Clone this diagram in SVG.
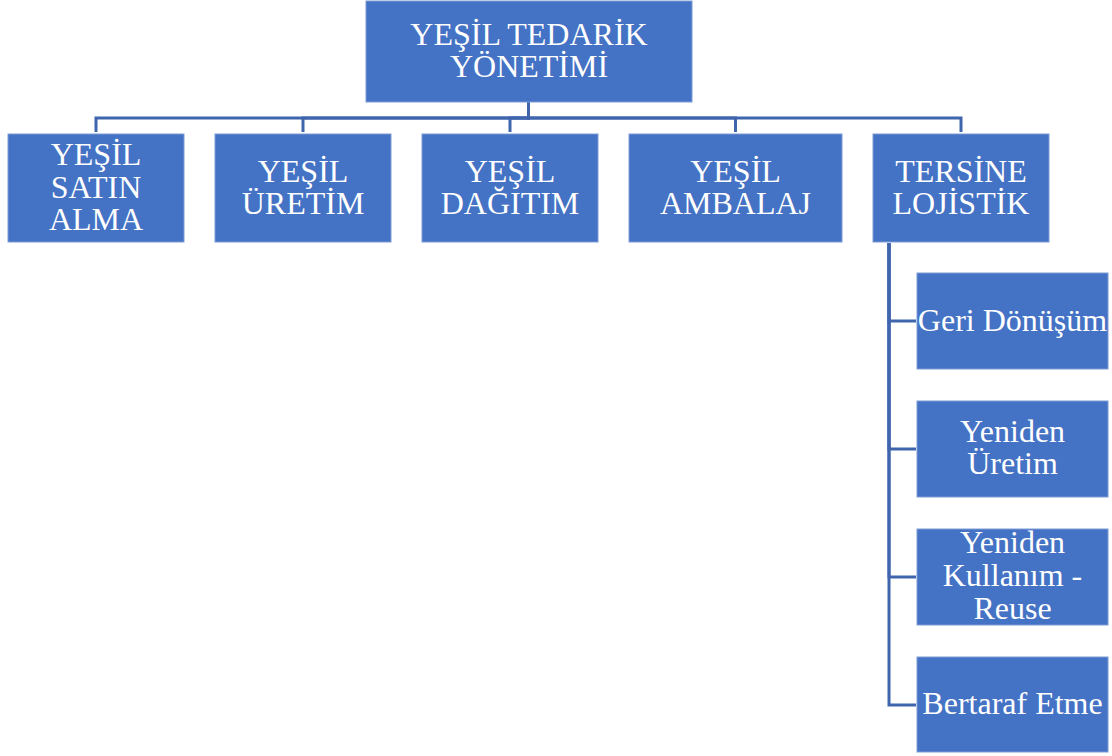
<svg xmlns="http://www.w3.org/2000/svg" width="1112" height="756" viewBox="0 0 1112 756">
  <style>
    .box { fill: #4472C4; stroke: #7C9BD6; stroke-width: 1; }
    .lbl { font-family: "Liberation Serif", "Times New Roman", serif; font-size: 32px; fill: #FFFFFF; text-anchor: middle; }
    .conn { fill: none; stroke: #3F65AD; stroke-width: 3; }
  </style>
  <rect width="1112" height="756" fill="#FFFFFF"/>

  <!-- connectors: elbow links from each parent to its children -->
  <g id="connectors">
    <path class="conn" d="M528.5 102 V118 H96 V132"/>
    <path class="conn" d="M528.5 102 V118 H303 V132"/>
    <path class="conn" d="M528.5 102 V118 H510 V132"/>
    <path class="conn" d="M528.5 102 V118 H735.5 V132"/>
    <path class="conn" d="M528.5 102 V118 H961 V132"/>
    <path class="conn" d="M889 243 V321 H916"/>
    <path class="conn" d="M889 243 V449 H916"/>
    <path class="conn" d="M889 243 V577 H916"/>
    <path class="conn" d="M889 243 V705 H916"/>
  </g>

  <!-- root -->
  <g id="node-root">
    <rect class="box" x="366" y="1" width="326" height="101"/>
    <text class="lbl" x="529" y="45">YEŞİL TEDARİK</text>
    <text class="lbl" x="529" y="77">YÖNETİMİ</text>
  </g>

  <!-- second level -->
  <g id="node-satin-alma">
    <rect class="box" x="8" y="134" width="176" height="108"/>
    <text class="lbl" x="96" y="165">YEŞİL</text>
    <text class="lbl" x="96" y="198">SATIN</text>
    <text class="lbl" x="96" y="230">ALMA</text>
  </g>
  <g id="node-uretim">
    <rect class="box" x="215" y="134" width="176" height="108"/>
    <text class="lbl" x="303" y="182">YEŞİL</text>
    <text class="lbl" x="303" y="214">ÜRETİM</text>
  </g>
  <g id="node-dagitim">
    <rect class="box" x="422" y="134" width="176" height="108"/>
    <text class="lbl" x="510" y="182">YEŞİL</text>
    <text class="lbl" x="510" y="214">DAĞITIM</text>
  </g>
  <g id="node-ambalaj">
    <rect class="box" x="629" y="134" width="213" height="108"/>
    <text class="lbl" x="735.5" y="182">YEŞİL</text>
    <text class="lbl" x="735.5" y="214">AMBALAJ</text>
  </g>
  <g id="node-tersine">
    <rect class="box" x="873" y="134" width="176" height="108"/>
    <text class="lbl" x="961" y="182">TERSİNE</text>
    <text class="lbl" x="961" y="214">LOJİSTİK</text>
  </g>

  <!-- reverse logistics children -->
  <g id="node-geri-donusum">
    <rect class="box" x="917" y="273" width="191" height="96"/>
    <text class="lbl" x="1012.5" y="331">Geri Dönüşüm</text>
  </g>
  <g id="node-yeniden-uretim">
    <rect class="box" x="917" y="401" width="191" height="96"/>
    <text class="lbl" x="1012.5" y="442">Yeniden</text>
    <text class="lbl" x="1012.5" y="474">Üretim</text>
  </g>
  <g id="node-yeniden-kullanim">
    <rect class="box" x="917" y="529" width="191" height="96"/>
    <text class="lbl" x="1012.5" y="553">Yeniden</text>
    <text class="lbl" x="1012.5" y="586">Kullanım -</text>
    <text class="lbl" x="1012.5" y="619">Reuse</text>
  </g>
  <g id="node-bertaraf">
    <rect class="box" x="917" y="657" width="191" height="95"/>
    <text class="lbl" x="1012.5" y="714">Bertaraf Etme</text>
  </g>
</svg>
